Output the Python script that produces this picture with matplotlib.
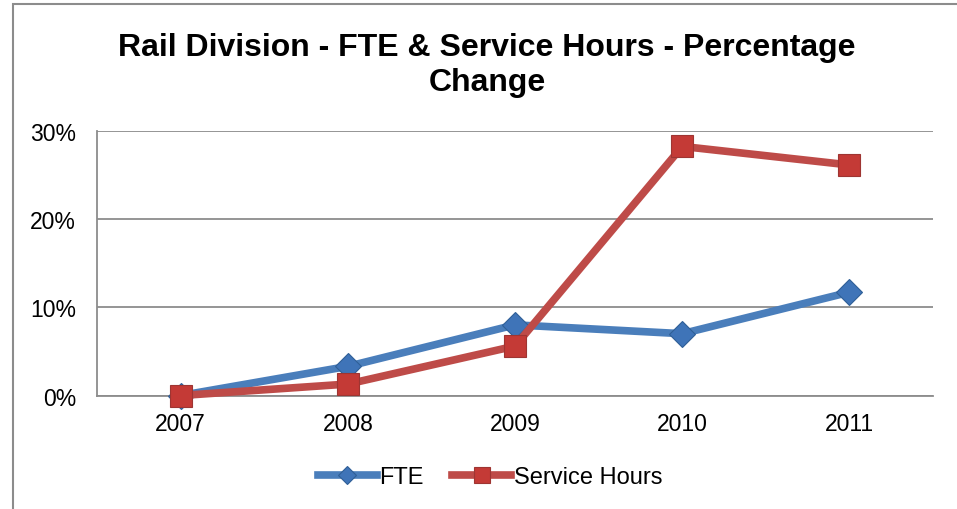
import matplotlib
matplotlib.use("Agg")
import matplotlib.pyplot as plt
from matplotlib.patches import Rectangle
from matplotlib.ticker import PercentFormatter

plt.rcParams['font.family'] = ['Liberation Sans', 'DejaVu Sans']

# values (percent change)
years = ['2007', '2008', '2009', '2010', '2011']
fte = [0.0, 3.3, 8.0, 7.0, 11.7]
service_hours = [0.0, 1.3, 5.6, 28.2, 26.1]

blue = '#4A7EBB'
red = '#BE4B48'
grid_col = '#8C8C8C'

fig = plt.figure(figsize=(9.57, 5.1), dpi=100)
ax = fig.add_axes([0.1014, 0.2225, 0.8736, 0.5196])

x = range(len(years))
ax.plot(x, fte, color=blue, lw=5.5, marker='D', ms=13,
        mfc='#3F74B8', mec='#2F5F97', mew=0.8, label='FTE', zorder=3, clip_on=False)
ax.plot(x, service_hours, color=red, lw=5.5, marker='s', ms=16,
        mfc='#C43A36', mec='#9E3532', mew=0.8, label='Service Hours', zorder=4, clip_on=False)

ax.set_xlim(-0.5, len(years) - 0.5)
ax.set_ylim(0, 30)
ax.set_yticks([0, 10, 20, 30])
ax.yaxis.set_major_formatter(PercentFormatter(decimals=0))
ax.set_xticks(list(x))
ax.set_xticklabels(years)
ax.tick_params(axis='both', length=0, labelsize=16.5)
ax.tick_params(axis='y', pad=15)
ax.tick_params(axis='x', pad=12)

ax.grid(axis='y', color=grid_col, lw=1.3)
ax.set_axisbelow(True)
for side in ['top', 'right']:
    ax.spines[side].set_visible(False)
ax.spines['left'].set_color(grid_col)
ax.spines['left'].set_linewidth(1.3)
ax.spines['bottom'].set_color(grid_col)
ax.spines['bottom'].set_linewidth(1.3)

fig.text(0.509, 0.871, 'Rail Division - FTE & Service Hours - Percentage\nChange',
         ha='center', va='center', fontsize=23, fontweight='bold', linespacing=1.22)

fig.legend(loc='center', bbox_to_anchor=(0.512, 0.0627), ncol=2, frameon=False,
           fontsize=17, handlelength=2.5, handletextpad=0.1, columnspacing=1.2,
           markerscale=0.7)

# outer chart frame
fig.patches.append(Rectangle((13 / 957, -0.1), 1.2, 1 - 5 / 510 + 0.1,
                             transform=fig.transFigure, fill=False,
                             edgecolor='#8C8C8C', lw=1.5))

fig.savefig('out.png', dpi=100)
